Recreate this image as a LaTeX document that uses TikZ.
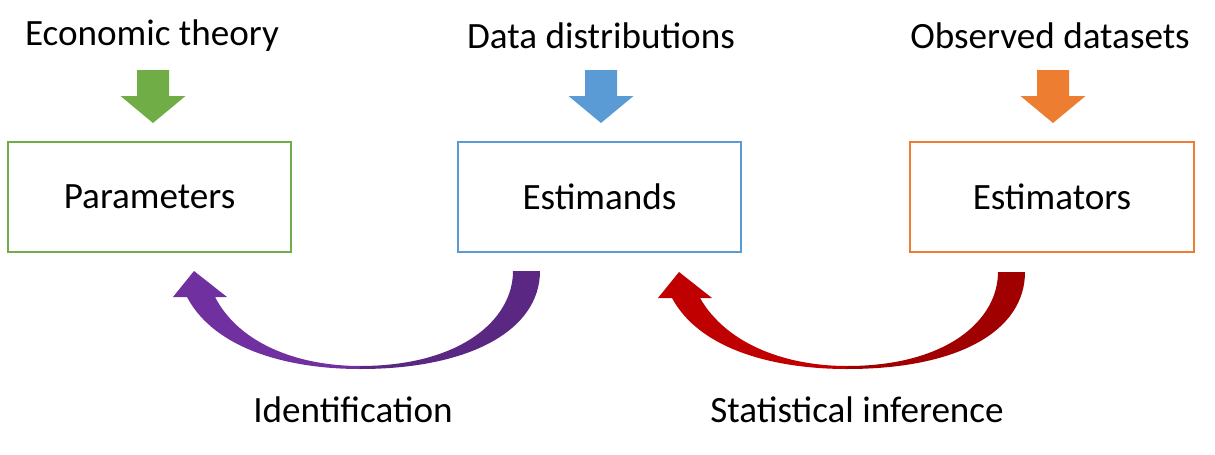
\documentclass[tikz,border=0pt]{standalone}
\usepackage{fontspec}
\setmainfont{Carlito}
\definecolor{cgreen}{HTML}{70AD47}
\definecolor{cblue}{HTML}{5B9BD5}
\definecolor{corange}{HTML}{ED7D31}
\definecolor{cpurple}{HTML}{7030A0}
\definecolor{cpurpledark}{HTML}{5A2783}
\definecolor{cred}{HTML}{C00000}
\definecolor{creddark}{HTML}{A00000}
\tikzset{
  stagebox/.style={draw=#1, line width=1.4pt, minimum width=7.075cm, minimum height=2.75cm, font=\fontsize{26.4}{30}\selectfont},
  toplabel/.style={font=\fontsize{26.4}{30}\selectfont},
}
\begin{document}
\begin{tikzpicture}[x=0.025cm, y=-0.025cm]
            \useasboundingbox (0,0) rectangle (1215,454);
            % boxes
            \node [stagebox=cgreen] (param) at (149.5,197) {Parameters};
            \node [stagebox=cblue] (estimand) at (599.5,197) {Estimands};
            \node [stagebox=corange] (estimator) at (1052,197) {Estimators};
            % inputs
            \node [toplabel] (theory) at (152,36) {Economic theory};
            \node [toplabel] (distrib) at (601,36) {Data distributions};
            \node [toplabel] (datasets) at (1050,36) {Observed datasets};
            \foreach \xc/\col in {153/cgreen, 601/cblue, 1053/corange} {
                \fill [\col] (\xc-16,70) -- (\xc+16,70) -- (\xc+16,96) -- (\xc+32.5,96) -- (\xc,123) -- (\xc-32.5,96) -- (\xc-16,96) -- cycle;
            }
            % identification arrow
            \fill [cpurple] (187,297) .. controls (215,350) and (290,369) .. (360,369) -- (360,366) .. controls (300,366) and (240,345) .. (215,297) -- (227,297) -- (194,271) -- (173,297) -- cycle;
            \fill [cpurpledark] (360,369) .. controls (470,369) and (540,330) .. (540,271) -- (513,271) .. controls (513,320) and (460,366) .. (360,366) -- cycle;
            % inference arrow
            \fill [cred] (672,298) .. controls (700,350) and (775,369) .. (847,369) -- (847,366) .. controls (787,366) and (727,345) .. (700,298) -- (712,298) -- (679,272) -- (658,298) -- cycle;
            \fill [creddark] (847,369) .. controls (960,369) and (1025,330) .. (1025,272) -- (998,272) .. controls (998,320) and (947,366) .. (847,366) -- cycle;
            % labels
            \node [toplabel] (ident) at (353,410) {Identification};
            \node [toplabel] (infer) at (857,410) {Statistical inference};
        \end{tikzpicture}
\end{document}
